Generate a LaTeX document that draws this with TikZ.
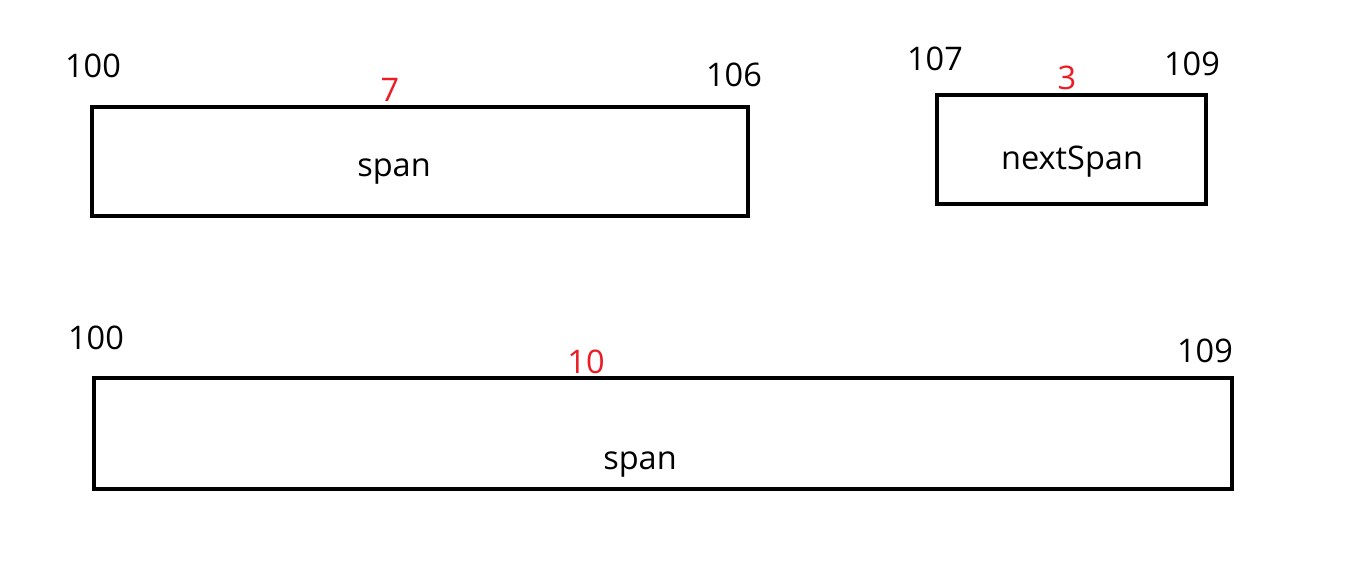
\documentclass[tikz,border=0pt]{standalone}
\usepackage{fontspec}
\setmainfont{Open Sans}
\usepackage{tikz}
\usetikzlibrary{positioning}
\definecolor{R}{RGB}{237, 28, 36}
\tikzset{
  box/.style={draw, line width=0.08cm, minimum height=2.18cm, inner sep=0pt},
  lbl/.style={font=\fontsize{18.5}{22}\selectfont, inner sep=0pt},
  len/.style={lbl, text=R}
}

\begin{document}
\begin{tikzpicture}
  \useasboundingbox (0,0) rectangle (26.94,-11.26);

  % first span and the next one
  \node[box, minimum width=13.12cm] (span) at (8.4,-3.23) {};
  \node[box, minimum width=5.38cm] (next) at (21.43,-2.99) {};
  \node[lbl] (spanText) at (7.88,-3.44) {span};
  \node[lbl] (nextText) at (21.44,-3.24) {nextSpan};

  \node[lbl] (startA) at (1.86,-1.32) {100};
  \node[lbl] (endA) at (14.68,-1.50) {106};
  \node[len] (lenA) at (7.80,-1.80) {7};
  \node[lbl] (startB) at (18.70,-1.18) {107};
  \node[lbl] (endB) at (23.84,-1.28) {109};
  \node[len] (lenB) at (21.34,-1.56) {3};

  % merged span
  \node[box, minimum width=22.76cm, minimum height=2.22cm] (merged) at (13.26,-8.67) {};
  \node[lbl] (mergedText) at (12.80,-9.30) {span};
  \node[lbl] (startC) at (1.92,-6.76) {100};
  \node[lbl] (endC) at (24.10,-7.02) {109};
  \node[len] (lenC) at (11.72,-7.24) {10};
\end{tikzpicture}
\end{document}
